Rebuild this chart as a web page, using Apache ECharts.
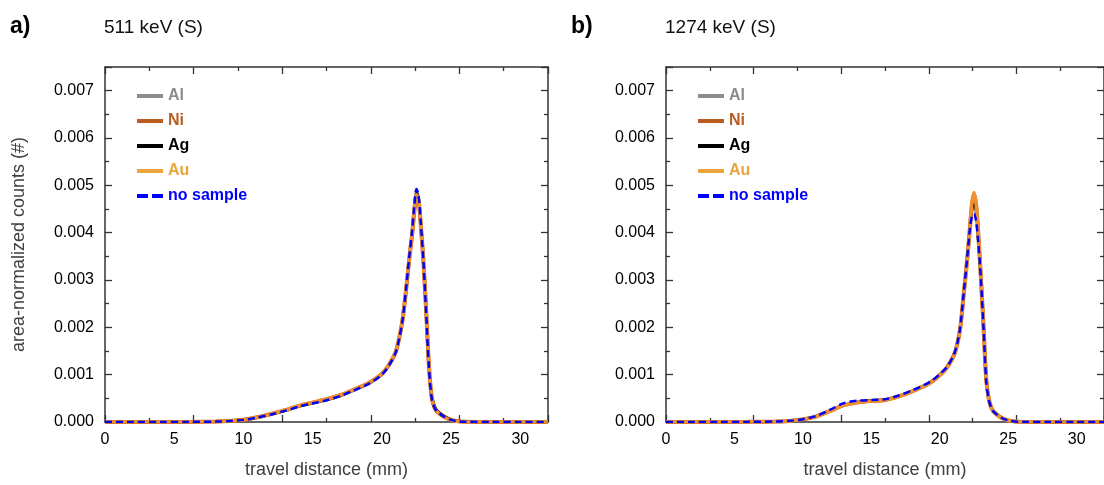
<!DOCTYPE html>
<html>
<head>
<meta charset="utf-8">
<title>travel distance</title>
<script src="https://cdn.jsdelivr.net/npm/echarts@6/dist/echarts.min.js"></script>
<style>
  html, body { margin: 0; padding: 0; background: #fff; }
  #main { width: 1104px; height: 485px; }
</style>
</head>
<body>
<div id="main"></div>
<script>
// travel distance (mm), shared by every curve
const distance = [0, 2, 4, 6, 8, 9, 10, 11, 12, 13, 14, 15, 16, 17, 18, 19, 19.5, 20, 20.5, 21, 21.25, 21.5, 21.75, 22,
  22.2, 22.35, 22.5, 22.65, 22.8, 23, 23.2, 23.4, 23.6, 23.8, 24, 24.5, 25, 25.5, 26, 28, 30, 32];

// a) 511 keV (S)
const a511Al = [0, 0, 0, 0.000002, 0.000008, 0.00002, 0.000046, 0.000097, 0.000165, 0.00024, 0.00033, 0.0004, 0.000465, 0.000555,
  0.000675, 0.000805, 0.000895, 0.001005, 0.001195, 0.001475, 0.001765, 0.00217, 0.00282, 0.00354, 0.00406, 0.00455, 0.00488,
  0.00475, 0.00423, 0.00341, 0.00231, 0.00117, 0.00051, 0.0003, 0.00022, 0.00011, 0.000045, 0.000015, 0.000005, 0, 0, 0];
const a511Ni = [0, 0, 0, 0.000002, 0.000009, 0.000021, 0.000047, 0.0001, 0.00017, 0.00025, 0.00034, 0.00041, 0.00048, 0.000565,
  0.000685, 0.000815, 0.000905, 0.001015, 0.0012, 0.00148, 0.00177, 0.00217, 0.0028, 0.0035, 0.004, 0.00448, 0.00478,
  0.00468, 0.0042, 0.0034, 0.00234, 0.00119, 0.00052, 0.00031, 0.00022, 0.00011, 0.000045, 0.000014, 0.000005, 0, 0, 0];
const a511Ag = [0, 0, 0, 0.000002, 0.000008, 0.00002, 0.000045, 0.000096, 0.000163, 0.000238, 0.00033, 0.0004, 0.000465, 0.000555,
  0.000675, 0.000805, 0.000895, 0.001005, 0.00119, 0.00147, 0.00176, 0.00216, 0.0028, 0.00352, 0.00404, 0.00452, 0.00485,
  0.00474, 0.00424, 0.00344, 0.00238, 0.00124, 0.00058, 0.00036, 0.00025, 0.00013, 0.00005, 0.000018, 0.000006, 0, 0, 0];
const a511Au = [0, 0, 0, 0.000002, 0.000008, 0.00002, 0.000045, 0.0001, 0.00017, 0.00025, 0.000345, 0.000415, 0.00048, 0.00057,
  0.00069, 0.00082, 0.00091, 0.00102, 0.00121, 0.00149, 0.00178, 0.00218, 0.00282, 0.00352, 0.00402, 0.0045, 0.0048,
  0.0047, 0.00422, 0.00342, 0.00235, 0.0012, 0.00052, 0.0003, 0.00021, 0.0001, 0.00004, 0.000012, 0.000004, 0, 0, 0];
const a511None = [0, 0, 0, 0.000002, 0.000008, 0.00002, 0.000045, 0.000095, 0.00016, 0.000235, 0.000325, 0.000395, 0.00046, 0.00055,
  0.00067, 0.0008, 0.00089, 0.001, 0.00119, 0.00147, 0.00176, 0.00217, 0.00282, 0.00355, 0.00408, 0.00458, 0.00492,
  0.00478, 0.00425, 0.0034, 0.0023, 0.00115, 0.0005, 0.0003, 0.00022, 0.00011, 0.000045, 0.000015, 0.000005, 0, 0, 0];

// b) 1274 keV (S)
const b1274Al = [0, 0, 0, 0.000003, 0.000011, 0.000023, 0.000057, 0.000125, 0.00024, 0.00036, 0.00042, 0.00045, 0.00047, 0.000545,
  0.000655, 0.000785, 0.000875, 0.000995, 0.00114, 0.00139, 0.00161, 0.00199, 0.0027, 0.00342, 0.00406, 0.00452, 0.00472,
  0.00452, 0.00398, 0.00306, 0.00199, 0.00088, 0.00046, 0.00028, 0.0002, 0.000087, 0.000034, 0.000012, 0.000004, 0, 0, 0];
const b1274Ni = [0, 0, 0, 0.000003, 0.000011, 0.000023, 0.000056, 0.00012, 0.000235, 0.000355, 0.000415, 0.000445, 0.000465, 0.00054,
  0.00065, 0.00078, 0.00087, 0.00099, 0.00114, 0.00139, 0.00161, 0.00199, 0.0027, 0.00342, 0.00408, 0.00458, 0.0048,
  0.0046, 0.00404, 0.00308, 0.002, 0.00089, 0.00046, 0.00028, 0.0002, 0.000088, 0.000034, 0.000012, 0.000004, 0, 0, 0];
const b1274Ag = [0, 0, 0, 0.000003, 0.000011, 0.000023, 0.000056, 0.000122, 0.000238, 0.00036, 0.00042, 0.00045, 0.00047, 0.000545,
  0.000655, 0.000785, 0.000875, 0.000995, 0.00114, 0.00139, 0.00161, 0.00199, 0.0027, 0.00342, 0.00405, 0.00445, 0.0046,
  0.00442, 0.00392, 0.00304, 0.00199, 0.0009, 0.00047, 0.00029, 0.00021, 0.00009, 0.000035, 0.000012, 0.000004, 0, 0, 0];
const b1274Au = [0, 0, 0, 0.000003, 0.000011, 0.000022, 0.000055, 0.00012, 0.00023, 0.00035, 0.00041, 0.00044, 0.00046, 0.000535,
  0.000645, 0.000775, 0.000865, 0.000985, 0.00113, 0.00138, 0.0016, 0.00198, 0.00268, 0.0034, 0.0041, 0.00462, 0.00485,
  0.00462, 0.00405, 0.00308, 0.002, 0.00088, 0.00046, 0.00028, 0.0002, 0.000085, 0.000033, 0.000011, 0.000004, 0, 0, 0];
const b1274None = [0, 0, 0, 0.000003, 0.000012, 0.000025, 0.00006, 0.00013, 0.00026, 0.0004, 0.00045, 0.000465, 0.00048, 0.00056,
  0.00067, 0.0008, 0.00089, 0.00101, 0.00115, 0.0014, 0.00162, 0.00201, 0.00272, 0.00345, 0.00408, 0.00434, 0.0044,
  0.00425, 0.00385, 0.00305, 0.00198, 0.00085, 0.00045, 0.00028, 0.0002, 0.00009, 0.000035, 0.000012, 0.000004, 0, 0, 0];

const panels = [
  { letter: 'a)', title: '511 keV (S)', left: 105, width: 443, curves: [a511Al, a511Ni, a511Ag, a511Au, a511None] },
  { letter: 'b)', title: '1274 keV (S)', left: 666, width: 442, curves: [b1274Al, b1274Ni, b1274Ag, b1274Au, b1274None] },
];

const sampleNames = ['Al', 'Ni', 'Ag', 'Au', 'no sample'];
const lineColors = ['#8c8c8c', '#b95d1f', '#000000', '#f0902e', '#0000ff'];
const legendColors = ['#8c8c8c', '#b95d1f', '#000000', '#eba43c', '#0000ff'];
const lineWidths = [3, 4, 2, 3.5, 2.5];

// legend marks: a short bar, or two dashes for "no sample"
const solidIcon = 'path://M0,0h26v4h-26z';
const dashIcon = 'path://M0,0h11v4h-11z M15,0h11v4h-11z';

const TOP = 67, HEIGHT = 355;
const FONT = 'Liberation Sans, Arial, sans-serif';

const chart = echarts.init(document.getElementById('main'));

const grid = [], xAxis = [], yAxis = [], series = [], legend = [], title = [];

panels.forEach((p, gi) => {
  grid.push({ left: p.left, top: TOP, width: p.width, height: HEIGHT });

  title.push({ text: p.letter, left: p.left - 95, top: 15, padding: 0,
    textStyle: { fontFamily: FONT, fontSize: 23, fontWeight: 'bold', color: '#000' } });
  title.push({ text: p.title, left: p.left - 1, top: 18, padding: 0,
    textStyle: { fontFamily: FONT, fontSize: 19, fontWeight: 'normal', color: '#111' } });

  // tick-only axes (bottom & top), ticks every 3.2, inward
  const tickAxis = (position) => ({
    type: 'value', gridIndex: gi, position: position, min: 0, max: 32, interval: 6.4,
    axisLine: { show: true, onZero: false, lineStyle: { color: '#333', width: 1.5 } },
    axisTick: { show: true, inside: true, length: 7, lineStyle: { color: '#333', width: 1.3 } },
    minorTick: { show: true, splitNumber: 2, length: 4, lineStyle: { color: '#333', width: 1.3 } },
    axisLabel: { show: false }, splitLine: { show: false },
  });
  xAxis.push(tickAxis('bottom'));
  xAxis.push(tickAxis('top'));
  // label axis, labels every 5 mm
  xAxis.push({
    type: 'value', gridIndex: gi, position: 'bottom', min: 0, max: 32, interval: 5,
    axisLine: { show: false, onZero: false }, axisTick: { show: false }, splitLine: { show: false },
    axisLabel: { show: true, showMaxLabel: false, margin: 10, fontSize: 16, fontFamily: FONT, color: '#000' },
    name: 'travel distance (mm)', nameLocation: 'middle', nameGap: 39,
    nameTextStyle: { fontSize: 18, fontFamily: FONT, color: '#404040' },
  });

  const yTickAxis = (position, labels) => ({
    type: 'value', gridIndex: gi, position: position, min: 0, max: 0.0075, interval: 0.001,
    axisLine: { show: true, onZero: false, lineStyle: { color: '#333', width: 1.5 } },
    axisTick: { show: true, inside: true, length: 7, lineStyle: { color: '#333', width: 1.3 } },
    minorTick: { show: true, splitNumber: 2, length: 4, lineStyle: { color: '#333', width: 1.3 } },
    splitLine: { show: false },
    axisLabel: { show: labels, showMaxLabel: false, margin: 11, fontSize: 16, fontFamily: FONT, color: '#000',
      formatter: v => v.toFixed(3) },
  });
  const yl = yTickAxis('left', true);
  if (gi === 0) {
    yl.name = 'area-normalized counts (#)';
    yl.nameLocation = 'middle';
    yl.nameGap = 77;
    yl.nameTextStyle = { fontSize: 18, fontFamily: FONT, color: '#404040' };
  }
  yAxis.push(yl);
  yAxis.push(yTickAxis('right', false));

  p.curves.forEach((vals, si) => {
    series.push({
      name: sampleNames[si], type: 'line', xAxisIndex: gi * 3, yAxisIndex: gi * 2,
      data: distance.map((x, i) => [x, vals[i]]),
      symbol: 'none', smooth: 0.3,
      lineStyle: { color: lineColors[si], width: lineWidths[si], type: si === 4 ? [7, 4] : 'solid' },
      itemStyle: { color: lineColors[si] },
      z: 2 + si,
    });
  });

  legend.push({
    orient: 'vertical', left: p.left + 32, top: 88, padding: 0,
    itemWidth: 26, itemHeight: 14, itemGap: 9, symbolKeepAspect: true,
    selectedMode: false,
    textStyle: { fontFamily: FONT, fontSize: 16, fontWeight: 'bold' },
    data: sampleNames.map((n, si) => ({
      name: n,
      icon: si === 4 ? dashIcon : solidIcon,
      itemStyle: { color: legendColors[si] },
      textStyle: { color: legendColors[si] },
    })),
  });
});

chart.setOption({
  backgroundColor: '#fff',
  animation: false,
  title: title,
  grid: grid,
  xAxis: xAxis,
  yAxis: yAxis,
  legend: legend,
  series: series,
});
</script>
</body>
</html>
